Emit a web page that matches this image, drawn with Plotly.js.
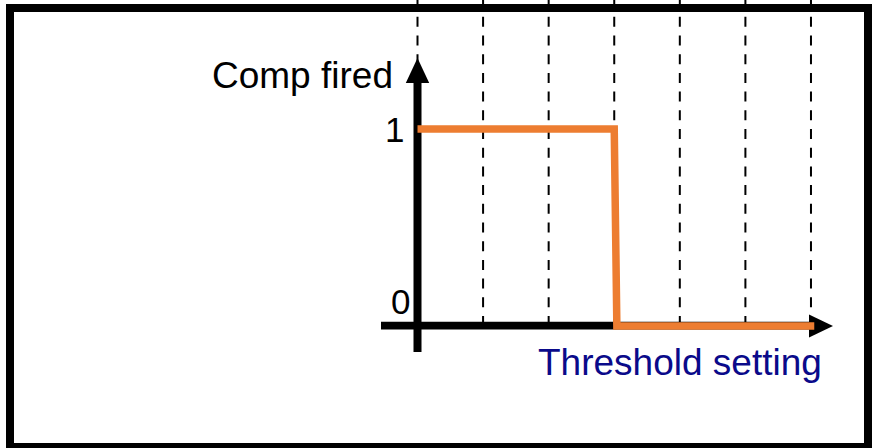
<!DOCTYPE html>
<html>
<head>
<meta charset="utf-8">
<script src="https://cdn.plot.ly/plotly-3.0.1.min.js"></script>
<style>html,body{margin:0;padding:0;background:#fff;}#chart{width:872px;height:448px;}</style>
</head>
<body>
<div id="chart"></div>
<script>
// Data
var thresholdTicks = [0, 1, 2, 3, 4, 5, 6];        // dashed grid positions
var thresholdX = [0, 3.0, 3.04, 6.05];              // step-curve x values
var compFired = [1, 1, 0, 0];                       // comparator output
var yTickValues = [1, 0];
var yTickLabels = ['1', '0'];
var xTitle = 'Threshold setting';
var yTitle = 'Comp fired';

var W = 872, H = 448;
function px(v) { return v / W; }
function py(v) { return 1 - v / H; }

var shapes = [];
// dashed vertical grid lines
thresholdTicks.forEach(function (t) {
  shapes.push({
    type: 'line', xref: 'x', yref: 'y', x0: t, x1: t, y0: 0, y1: 1.6548,
    line: { color: '#000', width: 2, dash: '10px,8.7px' }, layer: 'below'
  });
});
// y axis shaft + arrow head (pixel offsets from origin)
shapes.push({
  type: 'line', xref: 'x', yref: 'y', xsizemode: 'pixel', ysizemode: 'pixel',
  xanchor: 0, yanchor: 0, x0: 0, x1: 0, y0: -26, y1: 245,
  line: { color: '#000', width: 8 }, layer: 'below'
});
shapes.push({
  type: 'path', xref: 'x', yref: 'y', xsizemode: 'pixel', ysizemode: 'pixel',
  xanchor: 0, yanchor: 0, path: 'M-11.7,243 L11.7,243 L0,268 Z',
  fillcolor: '#000', line: { width: 0 }, layer: 'below'
});
// x axis shaft + arrow head
shapes.push({
  type: 'line', xref: 'x', yref: 'y', xsizemode: 'pixel', ysizemode: 'pixel',
  xanchor: 0, yanchor: 0, x0: -36.5, x1: 393, y0: 0.3, y1: 0.3,
  line: { color: '#000', width: 7.7 }, layer: 'below'
});
shapes.push({
  type: 'path', xref: 'x', yref: 'y', xsizemode: 'pixel', ysizemode: 'pixel',
  xanchor: 0, yanchor: 0, path: 'M391.5,-11.5 L391.5,11.5 L415.5,0 Z',
  fillcolor: '#000', line: { width: 0 }, layer: 'below'
});
// outer frame
shapes.push({
  type: 'rect', xref: 'paper', yref: 'paper',
  x0: px(10), x1: px(868), y0: py(447), y1: py(8),
  line: { color: '#000', width: 8 }, fillcolor: 'rgba(0,0,0,0)', layer: 'above'
});

var font = 'Liberation Sans, Arial, Helvetica, sans-serif';
var annotations = [
  { xref: 'paper', yref: 'paper', x: px(395), y: py(75), xanchor: 'right', yanchor: 'middle',
    text: yTitle, showarrow: false, font: { family: font, size: 37, color: '#000' } },
  { xref: 'paper', yref: 'paper', x: px(536), y: py(362), xanchor: 'left', yanchor: 'middle',
    text: xTitle, showarrow: false, font: { family: font, size: 37, color: '#0a0a8a' } }
];
yTickValues.forEach(function (v, i) {
  annotations.push({
    xref: 'x', yref: 'y', x: 0, y: v, xanchor: 'right', yanchor: 'middle',
    xshift: v === 1 ? -12 : -6, yshift: v === 1 ? 0 : 25,
    text: yTickLabels[i], showarrow: false, font: { family: font, size: 35, color: '#000' }
  });
});

var trace = {
  type: 'scatter', mode: 'lines', x: thresholdX, y: compFired,
  line: { color: '#ED7D31', width: 7.5 }, hoverinfo: 'skip'
};

var layout = {
  width: W, height: H,
  margin: { l: 0, r: 0, t: 0, b: 0, pad: 0 },
  paper_bgcolor: '#fff', plot_bgcolor: '#fff',
  showlegend: false,
  xaxis: { range: [-6.3663, 6.9305], visible: false, fixedrange: true },
  yaxis: { range: [-0.6193, 1.6548], visible: false, fixedrange: true },
  shapes: shapes,
  annotations: annotations
};

Plotly.newPlot('chart', [trace], layout, { displayModeBar: false, staticPlot: true });
</script>
</body>
</html>
